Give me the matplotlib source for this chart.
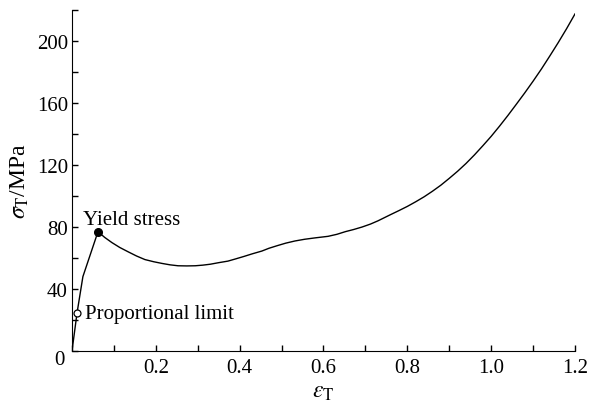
import matplotlib
matplotlib.use('Agg')
import matplotlib.pyplot as plt
from matplotlib.ticker import MultipleLocator

strain = [0, 0.012, 0.026, 0.062, 0.078, 0.095, 0.114, 0.134, 0.154, 0.174,
          0.195, 0.215, 0.234, 0.253, 0.274, 0.294, 0.312, 0.33, 0.35, 0.372,
          0.39, 0.41, 0.43, 0.453, 0.47, 0.49, 0.51, 0.532, 0.555, 0.58,
          0.611, 0.632, 0.652, 0.672, 0.692, 0.712, 0.73, 0.76, 0.78, 0.80,
          0.82, 0.84, 0.86, 0.88, 0.90, 0.92, 0.94, 0.96, 0.98, 1.00,
          1.02, 1.04, 1.06, 1.08, 1.10, 1.12, 1.14, 1.16, 1.18, 1.20]
stress = [0, 24.5, 48, 77, 73.3, 70, 66.8, 64, 61.3, 59,
          57.6, 56.5, 55.6, 55, 54.9, 55, 55.4, 56, 57, 58,
          59.4, 61, 62.7, 64.5, 66.3, 68, 69.6, 71, 72.1, 73,
          74, 75.3, 77, 78.4, 80, 81.9, 84, 88, 90.6, 93.3,
          96.3, 99.5, 103.1, 107, 111.4, 116, 121, 126.5, 132.4, 138.5,
          145.1, 152, 159.2, 166.5, 174.1, 182, 190.4, 199, 208, 217.5]

prop_limit = (0.012, 24.5)
yield_pt = (0.062, 77)

plt.rcParams['font.family'] = ['Liberation Serif', 'DejaVu Serif']
plt.rcParams['mathtext.fontset'] = 'stix'
fs = 15

fig = plt.figure(figsize=(6.02, 4.02), dpi=100)
ax = fig.add_axes([0.1196, 0.1244, 0.8355, 0.848])

ax.plot(strain, stress, color='black', lw=1.0)
ax.plot(*yield_pt, 'o', ms=5.5, mfc='black', mec='black')
ax.plot(*prop_limit, 'o', ms=5, mfc='white', mec='black', mew=0.9)

ax.text(0.026, 79, 'Yield stress', fontsize=fs, ha='left', va='bottom')
ax.text(0.031, 24.5, 'Proportional limit', fontsize=fs, ha='left', va='center')

ax.set_xlim(0, 1.2)
ax.set_ylim(0, 220)
for s in ['top', 'right']:
    ax.spines[s].set_visible(False)

ax.xaxis.set_major_locator(MultipleLocator(0.2))
ax.xaxis.set_minor_locator(MultipleLocator(0.1))
ax.yaxis.set_major_locator(MultipleLocator(40))
ax.yaxis.set_minor_locator(MultipleLocator(20))
ax.tick_params(which='both', direction='in', length=4, width=1, labelsize=fs)
ax.tick_params(axis='x', pad=5)
ax.tick_params(axis='y', pad=3)

ax.set_xticks([0.2, 0.4, 0.6, 0.8, 1.0, 1.2])
ax.set_xticklabels(['0.2', '0.4', '0.6', '0.8', '1.0', '1.2'])
ax.set_yticks([40, 80, 120, 160, 200])
ax.set_yticklabels(['40', '80', '120', '160', '200'])
ax.annotate('0', (0, 0), xytext=(-5, -6), textcoords='offset points',
            fontsize=fs, ha='right', va='center')

ax.set_xlabel(r'$\varepsilon_{\rm T}$', fontsize=17, labelpad=3)
ax.set_ylabel(r'$\sigma_{\rm T}$/MPa', fontsize=17, labelpad=4)

plt.savefig('out.png', dpi=100)
